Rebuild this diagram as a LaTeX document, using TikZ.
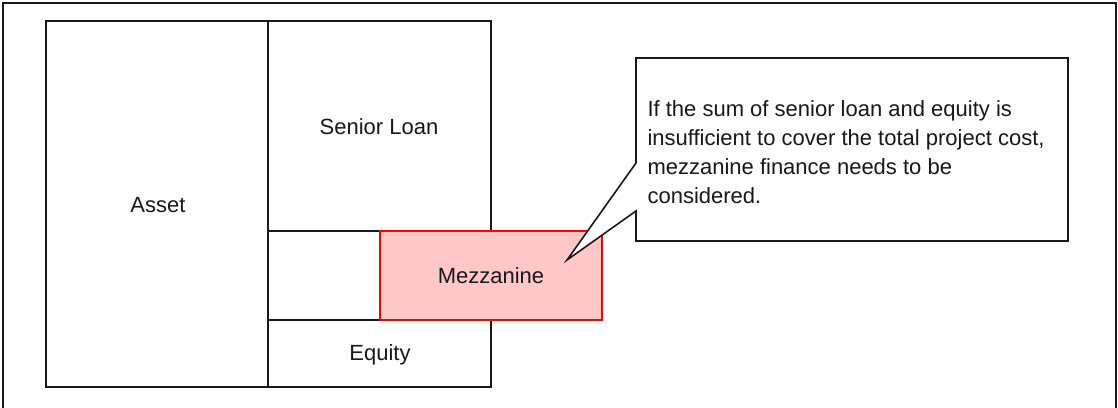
\documentclass[tikz,border=0pt]{standalone}
\usepackage{fontspec}
\setmainfont{Liberation Sans}
\tikzset{
  blockline/.style={line width=1.6pt, draw=black!90},
  mezzbox/.style={line width=1.6pt, draw=red, fill=red!22},
  blocktext/.style={font=\fontsize{22}{29}\selectfont, text=black!90}
}
\begin{document}
\begin{tikzpicture}[x=1pt,y=-1pt]
  \useasboundingbox (0,0) rectangle (1118,407);
  % Outer frame
  \draw [line width=2pt, black!90] (3,410) -- (3,3) -- (1116,3) -- (1116,410);%

  % Drawing asset block
  \draw [blockline] (46,21) rectangle (268,387);%
  \node [blocktext] (asset) at (158,205) {Asset};%

  % Drawing senior loan block
  \draw [blockline] (268,21) rectangle (491,231);%
  \node [blocktext] (senior) at (379,127) {Senior Loan};%

  % Drawing gap block and equity block
  \draw [blockline] (268,231) rectangle (491,320);%
  \draw [blockline] (268,320) rectangle (491,387);%
  \node [blocktext] (equity) at (380,355) {Equity};%

  % Drawing mezzanine block
  \draw [mezzbox] (380,231) rectangle (602,320);%
  \node [blocktext] (mezz) at (491,276) {Mezzanine};%

  % Drawing callout
  \coordinate (tip) at (567,260);%
  \draw [blockline, fill=white] (636,58) -- (1068,58) -- (1068,241) -- (636,241)
    -- (636,211) -- (tip) -- (636,163) -- cycle;%
  \node [blocktext, anchor=north west, align=left] (note) at (644,97)
    {If the sum of senior loan and equity is\\
     insufficient to cover the total project cost,\\
     mezzanine finance needs to be\\
     considered.};%
\end{tikzpicture}
\end{document}
